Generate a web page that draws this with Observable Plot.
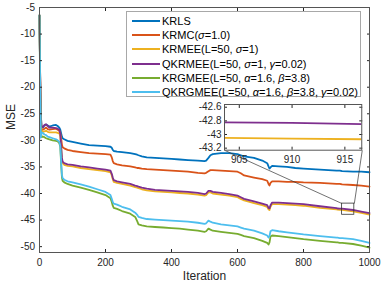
<!DOCTYPE html>
<html><head><meta charset="utf-8">
<script src="https://cdn.jsdelivr.net/npm/d3@7"></script>
<script src="https://cdn.jsdelivr.net/npm/@observablehq/plot@0.6"></script>
<style>
body{margin:0;background:#fff;}
#wrap{position:relative;width:382px;height:287px;font-family:"Liberation Sans",Arial,Helvetica,sans-serif;color:#262626;}
#wrap svg{position:absolute;overflow:visible;}
.legend{position:absolute;left:126px;top:11px;width:235px;height:86px;border:1px solid #a8a8a8;background:#fff;box-sizing:border-box;}
.row{position:absolute;left:5px;height:14px;display:flex;align-items:center;font-size:11px;white-space:nowrap;color:#000;}
.swatch{width:28px;height:2px;margin-right:2px;}
</style></head><body><div id="wrap"></div>
<script>
const iterations = [0,2,4,6,10,15,20,25,30,40,50,55,60,63,66,68,70,75,85,100,125,150,175,200,215,219,222,225,235,250,275,290,296,300,310,325,350,375,400,425,450,480,500,505,512,518,525,550,575,600,610,620,650,675,690,694,697,700,705,725,750,775,800,850,900,903,910,917,950,975,1000];

const krls = [-6.5,-18,-25,-27.5,-27.6,-27.2,-27.0,-27.2,-27.4,-27.2,-27.1,-27.3,-27.6,-28.0,-28.8,-29.3,-29.6,-29.8,-30.1,-30.3,-30.6,-30.9,-31.0,-31.1,-31.2,-31.4,-31.8,-32.0,-32.1,-32.2,-32.4,-32.6,-32.7,-32.8,-33.0,-33.2,-33.3,-33.4,-33.5,-33.6,-33.7,-33.8,-33.9,-33.8,-33.3,-32.8,-32.6,-32.4,-32.4,-32.6,-32.8,-33.0,-33.3,-33.8,-34.3,-34.9,-35.3,-35.1,-34.8,-34.9,-35.0,-35.2,-35.3,-35.5,-35.7,-35.7,-35.7,-35.8,-35.9,-35.9,-36.0];
const krmc = [-6.5,-18,-25.5,-28.0,-28.0,-27.8,-27.6,-27.9,-28.0,-27.9,-27.8,-28.0,-28.2,-28.6,-29.8,-30.8,-31.3,-31.5,-31.8,-32.0,-32.2,-32.4,-32.5,-32.6,-32.7,-33.2,-33.9,-34.3,-34.5,-34.7,-34.9,-35.1,-35.2,-35.2,-35.3,-35.4,-35.5,-35.6,-35.7,-35.8,-35.9,-36.1,-36.2,-36.1,-35.8,-35.6,-35.6,-35.7,-35.8,-35.9,-36.2,-36.6,-37.0,-37.3,-37.6,-38.2,-38.5,-38.0,-37.7,-37.7,-37.8,-37.8,-37.9,-38.0,-38.2,-38.2,-38.2,-38.3,-38.4,-38.5,-38.7];
const krmee = [-6.5,-18,-26,-28.2,-28.4,-28.3,-28.2,-28.4,-28.5,-28.5,-28.5,-28.6,-28.7,-29.2,-31.8,-33.6,-34.3,-34.6,-34.8,-34.9,-35.2,-35.4,-35.6,-35.8,-36.0,-36.6,-37.3,-37.8,-38.0,-38.2,-38.5,-38.8,-38.9,-39.0,-39.2,-39.4,-39.6,-39.7,-39.8,-39.9,-40.0,-40.2,-40.4,-40.3,-39.8,-39.8,-40.0,-40.2,-40.4,-40.7,-41.0,-41.3,-41.8,-42.2,-42.5,-43.0,-43.1,-42.5,-42.0,-42.0,-42.1,-42.2,-42.3,-42.7,-43.0,-43.05,-43.06,-43.07,-43.35,-43.65,-43.95];
const qkrmee = [-6.5,-18,-25,-27.3,-27.5,-27.1,-27.0,-27.3,-27.6,-27.6,-27.7,-27.8,-28.0,-28.8,-31.5,-33.3,-34.0,-34.3,-34.5,-34.6,-34.9,-35.1,-35.3,-35.5,-35.7,-36.3,-37.0,-37.5,-37.7,-37.9,-38.2,-38.5,-38.6,-38.7,-38.9,-39.1,-39.3,-39.4,-39.5,-39.6,-39.7,-39.9,-40.1,-40.0,-39.5,-39.5,-39.7,-39.9,-40.1,-40.4,-40.7,-41.0,-41.5,-41.9,-42.2,-42.7,-42.8,-42.2,-41.7,-41.7,-41.8,-41.9,-42.0,-42.4,-42.75,-42.82,-42.83,-42.85,-43.1,-43.4,-43.7];
const krgmee = [-6.5,-20,-28,-29.4,-29.3,-29.4,-29.6,-29.7,-29.8,-30.0,-30.1,-30.2,-30.5,-31.2,-35.0,-37.0,-37.6,-37.9,-38.2,-38.5,-38.9,-39.3,-39.8,-40.3,-40.9,-41.6,-42.3,-42.7,-42.9,-43.3,-43.8,-44.4,-45.2,-45.8,-46.0,-46.2,-46.3,-46.4,-46.5,-46.6,-46.8,-47.0,-47.2,-47.1,-46.6,-46.8,-47.0,-47.2,-47.4,-47.6,-47.8,-48.0,-48.4,-48.9,-49.3,-49.6,-49.2,-48.1,-47.9,-48.0,-48.2,-48.4,-48.6,-48.9,-49.2,-49.2,-49.3,-49.3,-49.5,-49.8,-50.2];
const qkrgmee = [-6.5,-20,-29.5,-28.5,-28.6,-28.9,-29.0,-29.3,-29.4,-29.6,-29.8,-30.0,-30.3,-31.0,-34.5,-36.5,-37.1,-37.4,-37.7,-37.9,-38.3,-38.7,-39.2,-39.7,-40.3,-41.0,-41.6,-41.9,-42.1,-42.5,-43.0,-43.6,-44.0,-44.4,-44.6,-44.8,-44.9,-45.0,-45.1,-45.2,-45.3,-45.5,-45.7,-45.6,-45.1,-45.3,-45.5,-45.8,-46.0,-46.2,-46.4,-46.6,-47.0,-47.5,-47.9,-48.3,-48.0,-47.1,-46.9,-47.1,-47.3,-47.5,-47.7,-48.0,-48.3,-48.3,-48.4,-48.4,-48.6,-48.9,-49.3];

const seriesKeys = ["KRLS","KRMC","KRMEE","QKRMEE","KRGMEE","QKRGMEE"];
const seriesLabels = [
  "KRLS",
  "KRMC(<i>σ</i>=1.0)",
  "KRMEE(L=50, <i>σ</i>=1)",
  "QKRMEE(L=50, <i>σ</i>=1, <i>γ</i>=0.02)",
  "KRGMEE(L=50, <i>α</i>=1.6, <i>β</i>=3.8)",
  "QKRGMEE(L=50, <i>α</i>=1.6, <i>β</i>=3.8, <i>γ</i>=0.02)"
];
const seriesColors = ["#0072BD","#D95319","#EDB120","#7E2F8E","#77AC30","#4DBEEE"];
const seriesValues = [krls, krmc, krmee, qkrmee, krgmee, qkrgmee];

const xTicks = [0,200,400,600,800,1000];
const yTicks = [-50,-45,-40,-35,-30,-25,-20,-15,-10,-5];
const xDomain = [0,1000];
const yDomain = [-51.1,-5];

const insetSeries = ["KRMEE","QKRMEE"];
const insetXTicks = [905,910,915];
const insetYTicks = [-43.2,-43,-42.8,-42.6];
const insetXDomain = [903.6,916.6];
const insetYDomain = [-43.23,-42.56];
// inset placement and zoom marker, in main-chart data units
const insetBox = {x1:562, x2:978, y1:-31.9, y2:-23.3};
const zoomRect = {x1:917, x2:954, y1:-44.0, y2:-41.9};

const rows = [];
seriesKeys.forEach((k,i)=>iterations.forEach((it,j)=>rows.push({series:k, iter:it, mse:seriesValues[i][j]})));
const connectors = [
  {x1:insetBox.x1, y1:insetBox.y1, x2:zoomRect.x1, y2:zoomRect.y2},
  {x1:insetBox.x2, y1:insetBox.y1, x2:zoomRect.x2, y2:zoomRect.y2}
];

const FONT = '"Liberation Sans",Arial,Helvetica,sans-serif';
const AX = "#262626";
const wrap = document.getElementById("wrap");

const main = Plot.plot({
  width:382, height:287, marginLeft:39, marginRight:13, marginTop:7, marginBottom:35,
  style:{fontFamily:FONT, fontSize:"10px", color:AX, background:"transparent"},
  x:{domain:xDomain},
  y:{domain:yDomain},
  color:{domain:seriesKeys, range:seriesColors},
  marks:[
    Plot.line(rows,{x:"iter", y:"mse", z:"series", stroke:"series", strokeWidth:1.8, strokeLinejoin:"round"}),
    Plot.rect([zoomRect],{x1:"x1",x2:"x2",y1:"y1",y2:"y2", fill:"none", stroke:"#333", strokeWidth:0.8}),
    Plot.link(connectors,{x1:"x1",y1:"y1",x2:"x2",y2:"y2", stroke:"#333", strokeWidth:0.7}),
    Plot.axisY({ticks:yTicks, tickSize:-3, tickPadding:7.5, tickFormat:d=>String(d), label:null, stroke:AX}),
    Plot.axisY({anchor:"right", ticks:yTicks, tickSize:-3, tickFormat:()=>"", label:null, stroke:AX}),
    Plot.axisX({ticks:xTicks, tickSize:-3, tickPadding:9, tickFormat:d=>String(d), label:null, stroke:AX}),
    Plot.axisX({anchor:"top", ticks:xTicks, tickSize:-3, tickFormat:()=>"", label:null, stroke:AX}),
    Plot.frame({stroke:"#555", strokeWidth:1}),
    Plot.text(["Iteration"],{frameAnchor:"bottom", dy:27, fontSize:12, fill:AX}),
    Plot.text(["MSE"],{frameAnchor:"left", dx:-28, rotate:-90, fontSize:12, fill:AX})
  ]
});
main.style.left="0px"; main.style.top="0px";
wrap.appendChild(main);

// legend
const lg = document.createElement("div");
lg.className="legend";
seriesKeys.forEach((k,i)=>{
  const r=document.createElement("div");
  r.className="row";
  r.style.top=(2+i*14.2)+"px";
  r.innerHTML=`<span class="swatch" style="background:${seriesColors[i]}"></span><span>${seriesLabels[i]}</span>`;
  lg.appendChild(r);
});
wrap.appendChild(lg);

// inset
const sx = main.scale("x"), sy = main.scale("y");
const bx1 = sx.apply(insetBox.x1), bx2 = sx.apply(insetBox.x2);
const by1 = sy.apply(insetBox.y2), by2 = sy.apply(insetBox.y1);
const mL=32, mR=4, mT=3, mB=20;
const insetRows = rows.filter(d=>insetSeries.includes(d.series) && d.iter>=900 && d.iter<=920);
const inset = Plot.plot({
  width: (bx2-bx1)+mL+mR, height:(by2-by1)+mT+mB,
  marginLeft:mL, marginRight:mR, marginTop:mT, marginBottom:mB,
  style:{fontFamily:FONT, fontSize:"10px", color:AX, background:"transparent"},
  x:{domain:insetXDomain},
  y:{domain:insetYDomain},
  color:{domain:seriesKeys, range:seriesColors},
  marks:[
    Plot.frame({fill:"white"}),
    Plot.line(insetRows,{x:"iter", y:"mse", z:"series", stroke:"series", strokeWidth:1.8, clip:true}),
    Plot.axisY({ticks:insetYTicks, tickSize:-3, tickPadding:6, tickFormat:d=>String(d), label:null, stroke:AX}),
    Plot.axisY({anchor:"right", ticks:insetYTicks, tickSize:-3, tickFormat:()=>"", label:null, stroke:AX}),
    Plot.axisX({ticks:insetXTicks, tickSize:-3, tickPadding:9, tickFormat:d=>String(d), label:null, stroke:AX}),
    Plot.axisX({anchor:"top", ticks:insetXTicks, tickSize:-3, tickFormat:()=>"", label:null, stroke:AX}),
    Plot.frame({stroke:"#555", strokeWidth:1})
  ]
});
inset.style.left=(bx1-mL)+"px"; inset.style.top=(by1-mT)+"px";
wrap.appendChild(inset);
</script></body></html>
